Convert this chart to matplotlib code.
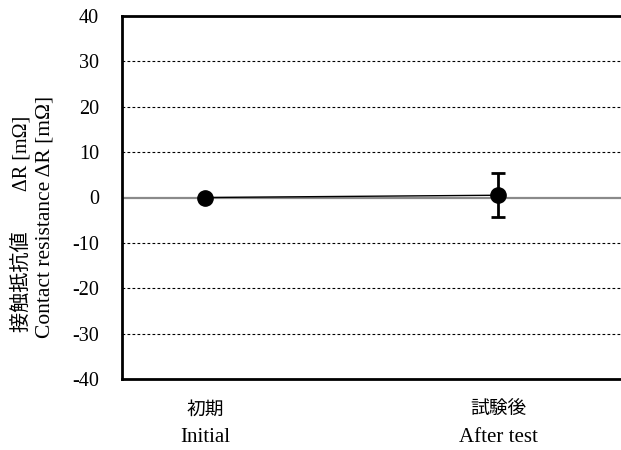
import matplotlib
matplotlib.use("Agg")
import matplotlib.pyplot as plt
import matplotlib.transforms as mtransforms

categories_jp = ["初期", "試験後"]
categories_en = ["Initial", "After test"]
values = [0.0, 0.5]
errors = [0.0, 4.9]
yticks = [-40, -30, -20, -10, 0, 10, 20, 30, 40]
grid_levels = [-30, -20, -10, 10, 20, 30]

fam = ['Liberation Serif', 'Noto Sans CJK JP', 'DejaVu Sans']
plt.rcParams['font.family'] = fam

fig = plt.figure(figsize=(6.21, 4.5), dpi=100)
ax = fig.add_axes([122/621, 1 - 379/450, 1.0, (379-16)/450])

x = list(range(len(values)))
ax.set_xlim(-83/293, -83/293 + 621/293)
ax.set_ylim(-40, 40)

for g in grid_levels:
    ax.axhline(g, color='black', lw=0.8, linestyle=(0, (2.5, 2)), zorder=1)
ax.axhline(0, color='#8a8a8a', lw=1.6, zorder=2)

ax.plot(x, values, color='black', lw=1.0, zorder=3)
ax.errorbar(x, values, yerr=errors, fmt='o', color='black', markersize=11,
            ecolor='black', elinewidth=2, capsize=5, capthick=2, zorder=4)

ax.set_yticks(yticks)
ax.set_yticklabels([str(t) for t in yticks], fontsize=14.5)
ax.tick_params(axis='y', length=0, pad=16.5)
ax.set_xticks(x)
ax.set_xticklabels([])
ax.tick_params(axis='x', length=0)

trans = mtransforms.blended_transform_factory(ax.transData, fig.transFigure)
for xi, j, e in zip(x, categories_jp, categories_en):
    ax.text(xi, 1 - 410/450, j, transform=trans, ha='center', va='center', fontsize=13.5)
    ax.text(xi, 1 - 437/450, e, transform=trans, ha='center', va='center', fontsize=15)

for s in ['left', 'top', 'bottom']:
    ax.spines[s].set_linewidth(2)
ax.spines['right'].set_visible(False)

fig.text(21/621, 1 - 224/450, "接触抵抗値　　ΔR [mΩ]", rotation=90, ha='center', va='center', fontsize=14.5)
fig.text(45/621, 1 - 217/450, "Contact resistance ΔR [mΩ]", rotation=90, ha='center', va='center', fontsize=15.5)

fig.savefig("out.png", dpi=100)
